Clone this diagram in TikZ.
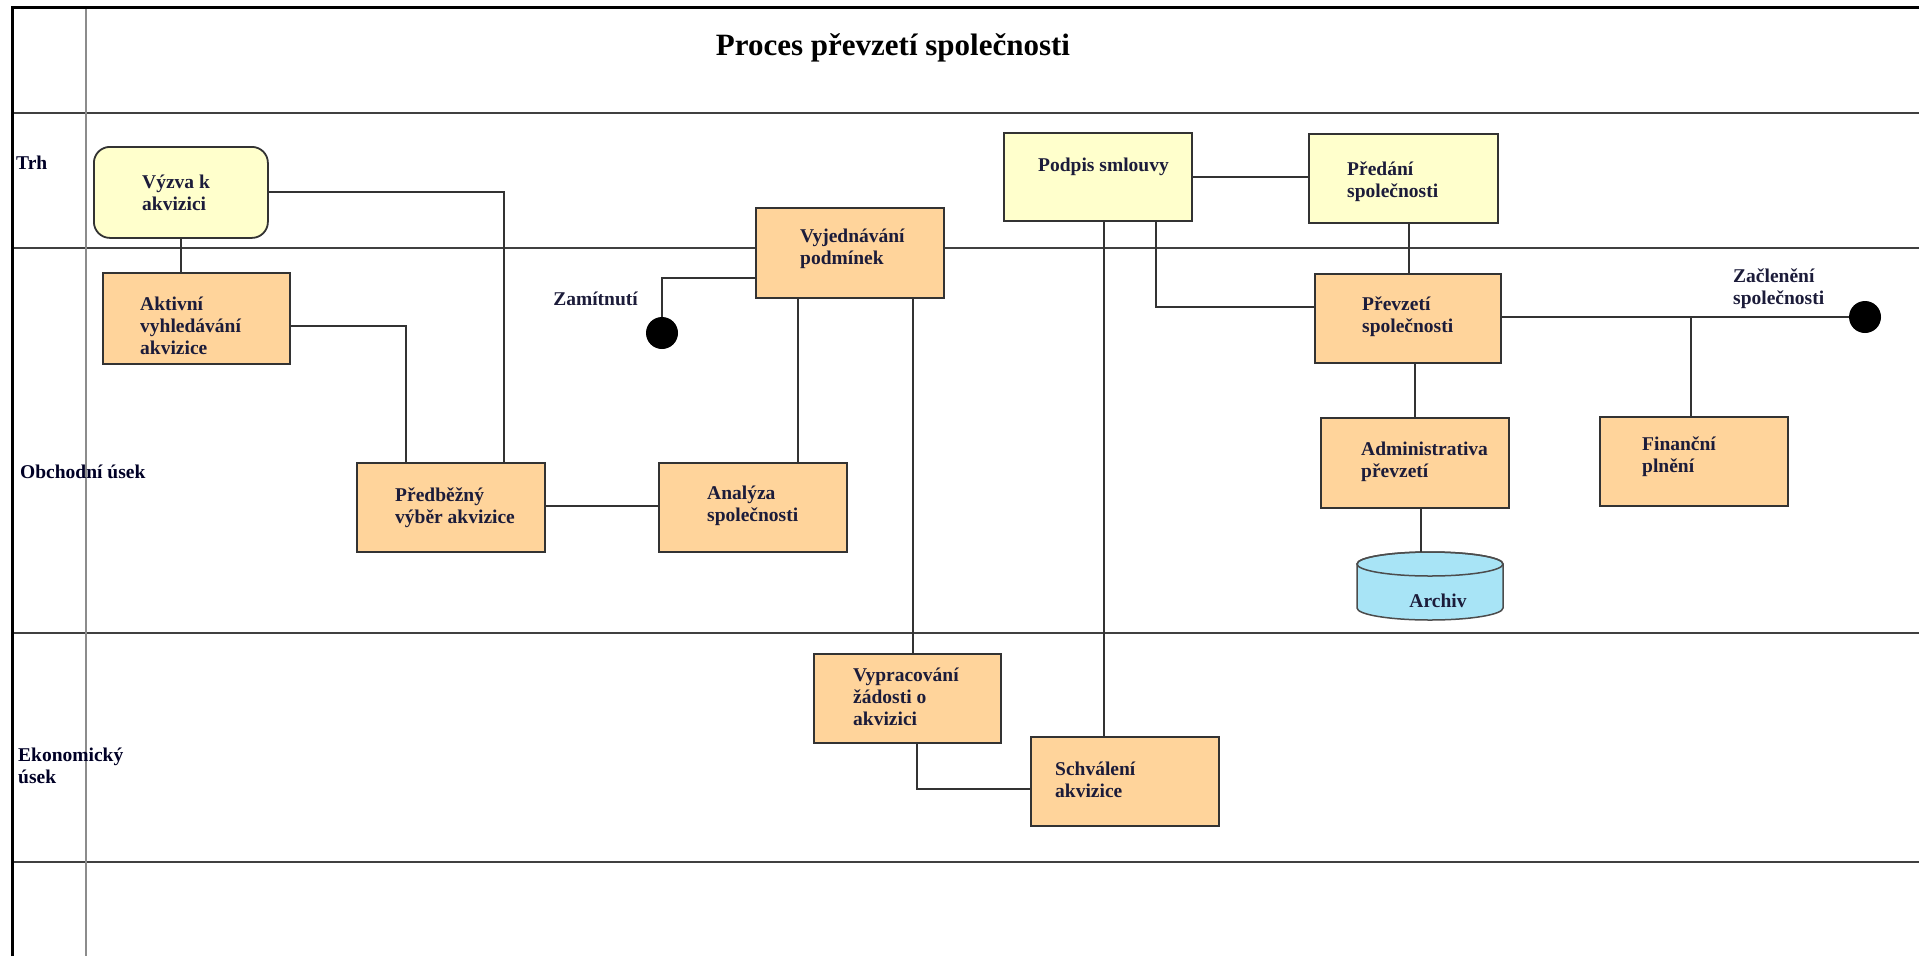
\documentclass[tikz,border=0pt]{standalone}
\usepackage{fontspec}
\setmainfont{Liberation Serif}
\definecolor{taskfill}{HTML}{FFD49B}
\definecolor{extfill}{HTML}{FFFFCC}
\definecolor{storefill}{HTML}{A8E4F6}
\definecolor{ink}{HTML}{1C1C3A}
\definecolor{edge}{HTML}{333333}
\definecolor{lanegray}{HTML}{404040}
\definecolor{colgray}{HTML}{8C8C8C}

\begin{document}
\begin{tikzpicture}[x=1pt,y=-1pt,
  task/.style={draw=edge, line width=1.8pt, fill=taskfill, anchor=north west, inner sep=0pt},
  ext/.style={task, fill=extfill},
  txt/.style={anchor=west, align=left, inner sep=0pt, text=ink,
              font=\bfseries\fontsize{19.5}{22}\selectfont},
  lanelbl/.style={txt, text=black!85!blue},
  flow/.style={draw=edge, line width=1.5pt},
  endev/.style={circle, fill=black, minimum size=32pt, inner sep=0pt},
  laneline/.style={draw=lanegray, line width=2pt},
]
\useasboundingbox[fill=white] (0,0) rectangle (1919,956);

% swimlane grid
\draw[laneline] (12.5,113) -- (1919,113);
\draw[laneline] (12.5,248) -- (1919,248);
\draw[laneline] (12.5,633) -- (1919,633);
\draw[laneline] (12.5,862) -- (1919,862);
\draw[draw=colgray, line width=2pt] (86,7) -- (86,956);
\draw[line width=3pt] (12.5,956) -- (12.5,7) -- (1919,7);

% title and lane names
\node[font=\bfseries\fontsize{31}{36}\selectfont, anchor=base, inner sep=0pt] (title)
  at (893,55) {Proces převzetí společnosti};
\node[lanelbl] (lane-trh) at (16,163) {Trh};
\node[lanelbl] (lane-obch) at (20,472) {Obchodní úsek};
\node[lanelbl] (lane-ekon) at (18,765.5) {Ekonomický\\úsek};

% activities
\node[ext, rounded corners=16pt, minimum width=174pt, minimum height=91pt] (vyzva) at (93,146) {};
\node[txt] (vyzva-t) at (142,193) {Výzva k\\akvizici};

\node[task, minimum width=187pt, minimum height=91pt] (aktivni) at (102,272) {};
\node[txt] (aktivni-t) at (140,326) {Aktivní\\vyhledávání\\akvizice};

\node[task, minimum width=188pt, minimum height=89pt] (predbezny) at (356,462) {};
\node[txt] (predbezny-t) at (395,507.5) {Předběžný\\výběr akvizice};

\node[task, minimum width=188pt, minimum height=89pt] (analyza) at (658,462) {};
\node[txt] (analyza-t) at (707,506) {Analýza\\společnosti};

\node[task, minimum width=188pt, minimum height=90pt] (vyjed) at (755,207) {};
\node[txt] (vyjed-t) at (800,248.5) {Vyjednávání\\podmínek};

\node[ext, minimum width=188pt, minimum height=88pt] (podpis) at (1003,132) {};
\node[txt] (podpis-t) at (1038,167) {Podpis smlouvy};

\node[ext, minimum width=189pt, minimum height=89pt] (predani) at (1308,133) {};
\node[txt] (predani-t) at (1347,182) {Předání\\společnosti};

\node[task, minimum width=186pt, minimum height=89pt] (prevzeti) at (1314,273) {};
\node[txt] (prevzeti-t) at (1362,316.5) {Převzetí\\společnosti};

\node[task, minimum width=188pt, minimum height=90pt] (admin) at (1320,417) {};
\node[txt] (admin-t) at (1361,461.5) {Administrativa\\převzetí};

\node[task, minimum width=188pt, minimum height=89pt] (financni) at (1599,416) {};
\node[txt] (financni-t) at (1642,456.5) {Finanční\\plnění};

\node[task, minimum width=187pt, minimum height=89pt] (vyprac) at (813,653) {};
\node[txt] (vyprac-t) at (853,697) {Vypracování\\žádosti o\\akvizici};

\node[task, minimum width=188pt, minimum height=89pt] (schvaleni) at (1030,736) {};
\node[txt] (schvaleni-t) at (1055,780) {Schválení\\akvizice};

% data store
\node[minimum width=146pt, minimum height=68pt, inner sep=0pt, anchor=north west] (archiv) at (1357,552) {};
\filldraw[fill=storefill, draw=gray!60!black, line width=1.5pt]
  (1357,564) -- (1357,608) arc[start angle=180, end angle=360, x radius=73pt, y radius=12pt]
  -- (1503,564) arc[start angle=0, end angle=180, x radius=73pt, y radius=12pt] -- cycle;
\draw[draw=gray!60!black, line width=1.5pt] (1430,564) ellipse[x radius=73pt, y radius=12pt];
\node[txt, anchor=center] (archiv-t) at (1438,601) {Archiv};

% end events
\node[endev] (zamit) at (662,333) {};
\node[txt, anchor=east] (zamit-l) at (638,299) {Zamítnutí};
\node[endev] (zaclen) at (1865,317) {};
\node[txt] (zaclen-l) at (1733,288.5) {Začlenění\\společnosti};

% connectors
\draw[flow] (vyzva.south -| 181,0) -- (aktivni.north -| 181,0);
\draw[flow] (vyzva.east |- 0,192) -| (predbezny.north -| 504,0);
\draw[flow] (aktivni.east |- 0,326) -| (predbezny.north -| 406,0);
\draw[flow] (predbezny.east |- 0,506) -- (analyza.west |- 0,506);
\draw[flow] (analyza.north -| 798,0) -- (vyjed.south -| 798,0);
\draw[flow] (vyjed.west |- 0,278) -| (zamit.north);
\draw[flow] (vyjed.south -| 913,0) -- (vyprac.north -| 913,0);
\draw[flow] (vyprac.south -| 917,0) |- (schvaleni.west |- 0,789);
\draw[flow] (podpis.south -| 1104,0) -- (schvaleni.north -| 1104,0);
\draw[flow] (podpis.south -| 1156,0) |- (prevzeti.west |- 0,307);
\draw[flow] (podpis.east |- 0,177) -- (predani.west |- 0,177);
\draw[flow] (predani.south -| 1409,0) -- (prevzeti.north -| 1409,0);
\draw[flow] (prevzeti.east |- 0,317) -- (zaclen.west);
\coordinate (branch) at (1691,317);
\draw[flow] (branch) -- (financni.north -| branch);
\draw[flow] (prevzeti.south -| 1415,0) -- (admin.north -| 1415,0);
\draw[flow] (admin.south -| 1421,0) -- (archiv.north -| 1421,0);
\end{tikzpicture}
\end{document}
